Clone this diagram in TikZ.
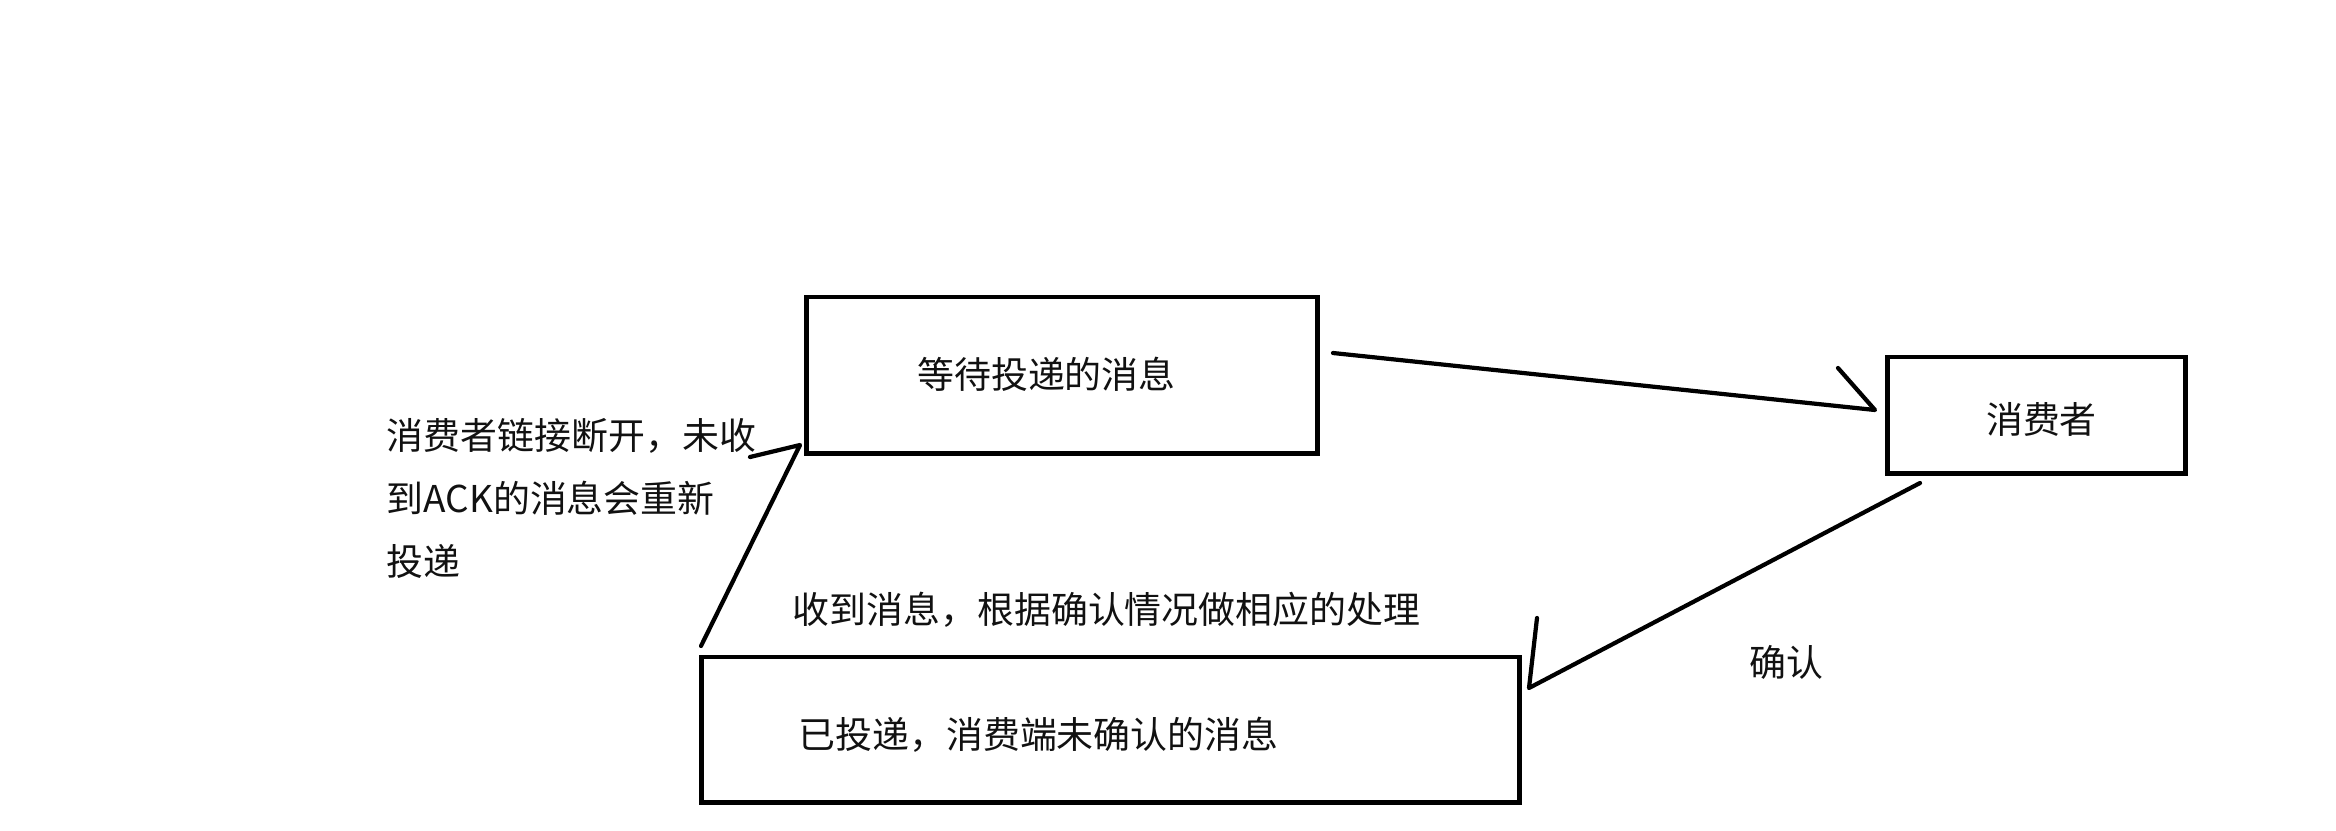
\documentclass[tikz,border=0pt]{standalone}
\usepackage{fontspec}
\usepackage{tikz}
\usetikzlibrary{positioning}
\newfontfamily\cjkfont{Noto Sans CJK SC}
\definecolor{ink}    {HTML}{000000}
\definecolor{inktext}{HTML}{111111}

\begin{document}
\begin{tikzpicture}[x=0.01cm,y=-0.01cm,font=\cjkfont\fontsize{10.5pt}{17.9pt}\selectfont,
    msgbox/.style={draw=ink,line width=1.4pt,inner sep=0pt},
    msgtext/.style={text=inktext,inner sep=0pt},
    flow/.style={ink,line width=1.2pt,line cap=round,line join=round}]
  \useasboundingbox (0,0) rectangle (2336,830);
  % boxes
  \node[msgbox,minimum width=5.10cm,minimum height=1.56cm] (waiting) at (1062,375) {};
  \node[msgbox,minimum width=2.97cm,minimum height=1.16cm] (consumer) at (2036.5,415) {};
  \node[msgbox,minimum width=8.17cm,minimum height=1.45cm] (unacked) at (1110.5,729.5) {};
  % texts
  \node[msgtext] (waitingtxt) at (1046.5,374) {等待投递的消息};
  \node[msgtext] (consumertxt) at (2041.5,419) {消费者};
  \node[msgtext] (unackedtxt) at (1038.5,735) {已投递，消费端未确认的消息};
  \node[msgtext] (recvtxt) at (1106.5,610) {收到消息，根据确认情况做相应的处理};
  \node[msgtext] (acktxt) at (1786.5,662) {确认};
  \node[msgtext,align=left,anchor=west] (resendtxt) at (386,498)
    {消费者链接断开，未收\\到ACK的消息会重新\\投递};
  % arrows
  \coordinate (w2c-s) at (1333,353);
  \coordinate (w2c-e) at (1875,410);
  \coordinate (w2c-b) at (1838,368);
  \draw[flow] (w2c-s) -- (w2c-e) -- (w2c-b);
  \coordinate (c2u-s) at (1920,483);
  \coordinate (c2u-e) at (1529,688);
  \coordinate (c2u-b) at (1537,618);
  \draw[flow] (c2u-s) -- (c2u-e) -- (c2u-b);
  \coordinate (u2w-s) at (701,646);
  \coordinate (u2w-e) at (800,445);
  \coordinate (u2w-b) at (750,457);
  \draw[flow] (u2w-s) -- (u2w-e) -- (u2w-b);
\end{tikzpicture}
\end{document}
